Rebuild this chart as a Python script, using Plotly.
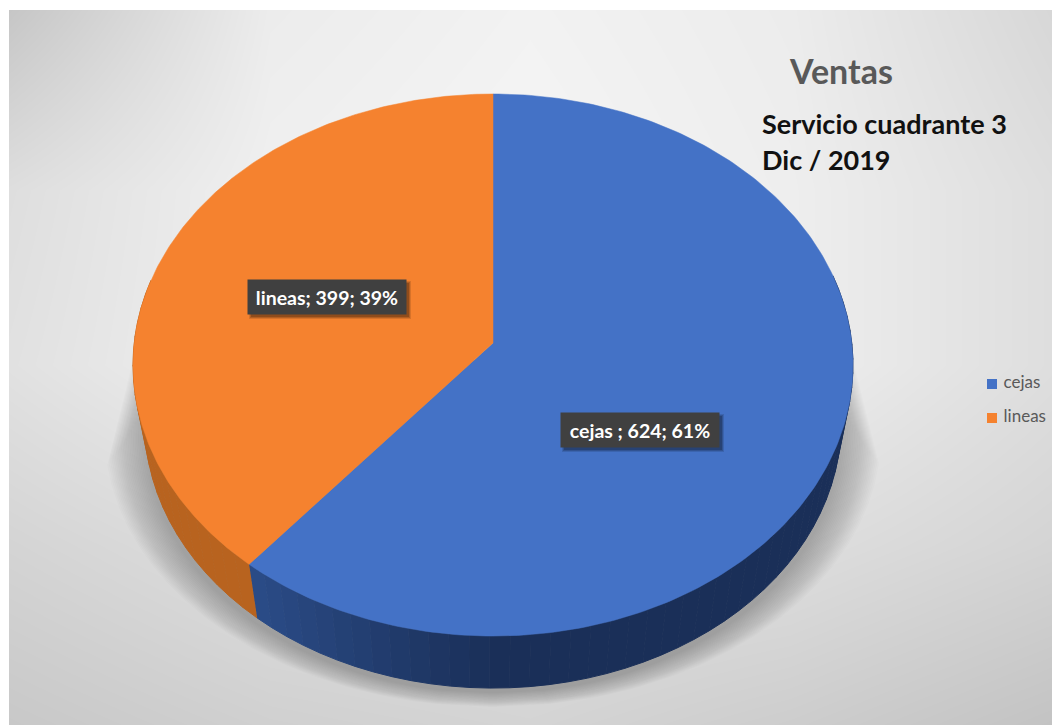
import numpy as np
import plotly.graph_objects as go

# Sales split shown on the pie
categories = ["cejas ", "lineas"]
values = [624, 399]
legend_names = ["cejas", "lineas"]
top_colors = ["#4472C6", "#F5822F"]
side_colors_light = ["#2B4C88", "#B8631F"]
side_colors_dark = ["#1A2F58", "#B8631F"]

title_main = "Ventas"
title_lines = ["Servicio cuadrante 3", "Dic / 2019"]

# Backdrop gray levels on a coarse grid
bg_x = [9, 270, 530, 790, 1052]
bg_y = [10, 190, 365, 545, 725]
bg_gray = [
    [198, 236, 242, 236, 215],
    [222, 240, 245, 238, 222],
    [225, 240, 245, 238, 222],
    [212, 222, 225, 222, 212],
    [200, 208, 212, 205, 195],
]

W, H = 1052, 725
CX = 493.0
PERSP = 0.0812


def top_xy(u, v):
    """Perspective projection of a point on the unit disc to the pie's top face."""
    d = 1 + PERSP * v
    return CX + 358.8 * u / d, (343 - 241.4 * v) / d


def base_xy(u, v):
    """Same point on the pie's underside, a little smaller and lower."""
    x, y = top_xy(u, v)
    return CX + (x - CX) * 0.967, 423 + (y - 365) * 0.978


def blend(c1, c2, t):
    a = [int(c1[i:i + 2], 16) for i in (1, 3, 5)]
    b = [int(c2[i:i + 2], 16) for i in (1, 3, 5)]
    return "rgb({},{},{})".format(*[round(p + (q - p) * t) for p, q in zip(a, b)])


def shadow_outline(grow):
    """Cast shadow: an ellipse whose upper part tapers into the pie's sides."""
    ys = np.linspace(360, 435 + 272 - grow * 0.35, 120)
    ell = (388 - grow) * np.sqrt(np.clip(1 - ((ys - 435) / (272 - grow * 0.35)) ** 2, 0, 1))
    half = np.minimum(ell, 360 + (ys - 360) * 0.25 - grow * 0.6)
    return np.r_[CX - half, (CX + half)[::-1]], np.r_[ys, ys[::-1]]


fig = go.Figure()

fig.add_trace(go.Heatmap(
    x=bg_x, y=bg_y, z=bg_gray, zmin=0, zmax=255, zsmooth="best", showscale=False,
    colorscale=[[0, "#000000"], [1, "#ffffff"]], hoverinfo="skip",
))

# Soft drop shadow built from stacked translucent outlines
for grow in np.linspace(0, 40, 24):
    sx, sy = shadow_outline(grow)
    fig.add_trace(go.Scatter(
        x=sx, y=sy, mode="lines", fill="toself", line=dict(width=0),
        fillcolor="rgba(80,80,80,0.016)",
        hoverinfo="skip", showlegend=False,
    ))

total = sum(values)
fractions = [val / total for val in values]
starts = [0.0, fractions[0] * 2 * np.pi]
ends = [fractions[0] * 2 * np.pi, 2 * np.pi]

# Rim of each slice, front half only, shaded along the angle
for k in range(2):
    n = max(int((ends[k] - starts[k]) / np.radians(3)), 1)
    edges = np.linspace(starts[k], ends[k], n + 1)
    for a0, a1 in zip(edges[:-1], edges[1:]):
        if np.cos((a0 + a1) / 2) > 0.25:
            continue
        seg = np.linspace(a0, a1, 5)
        u, v = np.sin(seg), np.cos(seg)
        tx, ty = top_xy(u, v)
        bx, by = base_xy(u, v)
        mix = float(np.clip(-np.sin((a0 + a1) / 2) / 0.64, 0, 1))
        shade = blend(side_colors_dark[k], side_colors_light[k], mix)
        fig.add_trace(go.Scatter(
            x=np.r_[tx, bx[::-1]], y=np.r_[ty, by[::-1]], mode="lines", fill="toself",
            line=dict(width=1, color=shade), fillcolor=shade,
            hoverinfo="skip", showlegend=False,
        ))

# Top faces
for k in range(2):
    ang = np.linspace(starts[k], ends[k], 240)
    tx, ty = top_xy(np.sin(ang), np.cos(ang))
    cx0, cy0 = top_xy(0.0, 0.0)
    fig.add_trace(go.Scatter(
        x=np.r_[cx0, tx, cx0], y=np.r_[cy0, ty, cy0], mode="lines", fill="toself",
        line=dict(width=0.5, color=top_colors[k]), fillcolor=top_colors[k],
        hoverinfo="skip", showlegend=False, name=legend_names[k],
    ))

# Legend entries
fig.add_trace(go.Scatter(
    x=[992, 992], y=[384, 418], mode="markers+text",
    text=["\u00a0" + name for name in legend_names],
    textposition="middle right", cliponaxis=False,
    textfont=dict(family="Lato", size=17, color="#595959"),
    marker=dict(symbol="square", size=10, color=top_colors),
    hoverinfo="skip", showlegend=False,
))

labels = [
    f"{name}; {val}; {round(100 * val / total)}%" for name, val in zip(categories, values)
]
label_pos = [(640, 430), (327, 297)]
shapes = [
    dict(type="rect", xref="x", yref="y", x0=0, x1=9, y0=0, y1=H, fillcolor="white", line_width=0),
    dict(type="rect", xref="x", yref="y", x0=0, x1=W, y0=0, y1=10, fillcolor="white", line_width=0),
    dict(type="rect", xref="x", yref="y", x0=976, x1=W, y0=367, y1=437,
         fillcolor="rgba(255,255,255,0.12)", line_width=0, layer="below"),
]
annotations = []
for text, (lx, ly) in zip(labels, label_pos):
    for pad, alpha in ((3, 0.12), (2, 0.16), (1, 0.2)):
        shapes.append(dict(
            type="rect", xref="x", yref="y", x0=lx - 78 + 3 - pad, x1=lx + 78 + 3 + pad,
            y0=ly - 16 + 3 - pad, y1=ly + 16 + 3 + pad,
            fillcolor=f"rgba(0,0,0,{alpha})", line_width=0,
        ))
    annotations.append(dict(
        x=lx, y=ly, xref="x", yref="y", text=f"<b>{text}</b>", showarrow=False,
        width=156, height=32, bgcolor="#404040", align="center", valign="middle",
        font=dict(family="Lato", size=19.5, color="#ffffff"),
    ))

annotations.append(dict(
    x=787, y=70, xref="x", yref="y", xanchor="left", yanchor="middle", showarrow=False,
    text=f"<b>{title_main}</b>", font=dict(family="Lato", size=34, color="#595959"),
))
for line, ty in zip(title_lines, (123, 159)):
    annotations.append(dict(
        x=760, y=ty, xref="x", yref="y", xanchor="left", yanchor="middle", showarrow=False,
        text=f"<b>{line}</b>", font=dict(family="Lato", size=27, color="#111111"),
    ))

fig.update_layout(
    width=W, height=H, margin=dict(l=0, r=0, t=0, b=0),
    paper_bgcolor="white", plot_bgcolor="white", showlegend=False,
    xaxis=dict(range=[0, W], visible=False, fixedrange=True),
    yaxis=dict(range=[H, 0], visible=False, fixedrange=True),
    shapes=shapes, annotations=annotations,
)

fig.write_html("out.html", config={"displayModeBar": False})
